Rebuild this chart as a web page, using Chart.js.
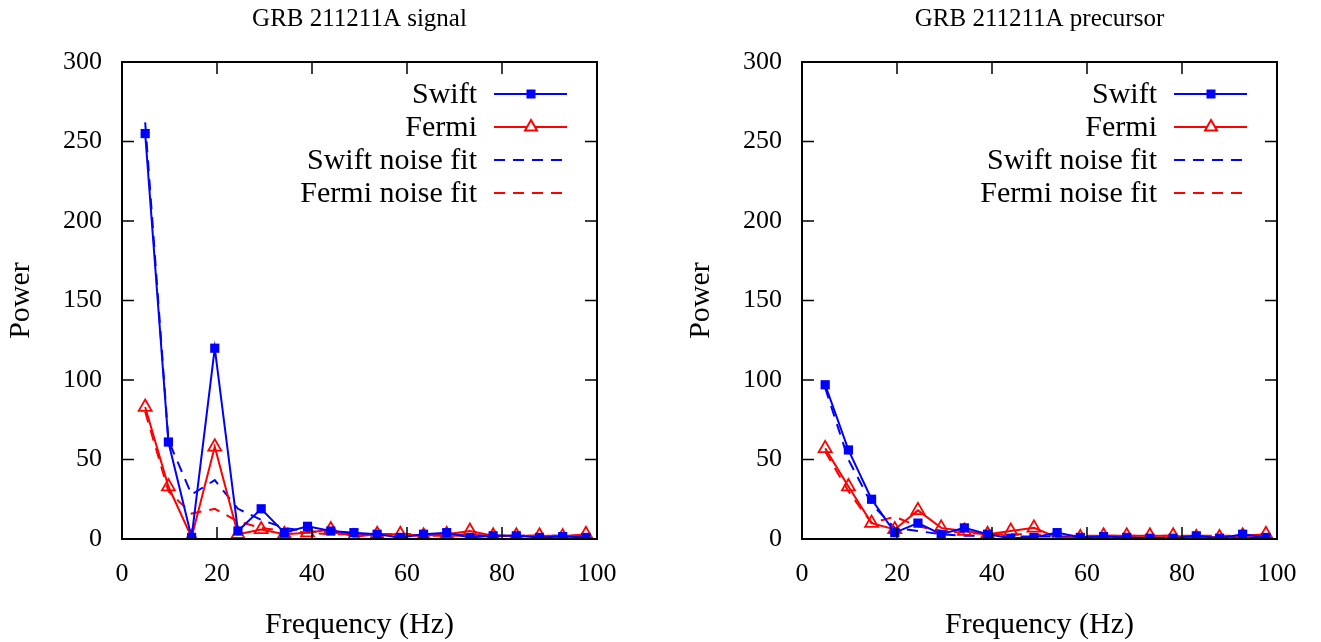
<!DOCTYPE html>
<html>
<head>
<meta charset="utf-8">
<script src="https://cdn.jsdelivr.net/npm/chart.js@4/dist/chart.umd.min.js"></script>
<style>
  body { margin: 0; background: #fff; }
  .panel { position: absolute; top: 0; width: 641px; height: 642px; }
</style>
</head>
<body>
<div class="panel" style="left:0"><canvas id="signalChart"></canvas></div>
<div class="panel" style="left:680px"><canvas id="precursorChart"></canvas></div>
<script>
// frequencies (Hz)
const freqs = [4.88, 9.77, 14.65, 19.53, 24.41, 29.30, 34.18, 39.06, 43.95, 48.83,
               53.71, 58.59, 63.48, 68.36, 73.24, 78.13, 83.01, 87.89, 92.77, 97.66];

// signal
const swiftSignal    = [255, 61, 1, 120, 5, 19, 4, 8, 5, 4, 3, 1, 3, 4, 1, 2, 2, 1, 1.5, 1];
const fermiSignal    = [83, 33, 1, 58, 3, 6, 3, 4, 6, 1.5, 3, 3, 2, 3, 5, 2, 2, 2, 1.5, 3];
const swiftFitSignal = [262, 62, 28, 37, 19, 12, 7, 5, 4, 3, 3, 3, 3, 3, 2.5, 2, 2, 2, 2, 2];
const fermiFitSignal = [80, 30, 16, 19, 11, 7, 5, 4, 3, 3, 2.5, 2.5, 2, 2, 2, 2, 2, 2, 2, 2];

// precursor
const swiftPre    = [97, 56, 25, 4, 10, 3, 7, 3, 0.5, 1, 4, 1, 1.5, 1, 0.5, 0.5, 2, 0.5, 3, 1];
const fermiPre    = [57, 33, 10, 6, 18, 7, 5, 3, 5, 7, 1, 1, 2, 2, 2, 2, 1, 1, 2, 3];
const swiftFitPre = [95, 50, 22, 7, 5, 3, 2, 2, 1.5, 1.5, 1.5, 1.5, 1, 1, 1, 1, 1, 1, 1, 1];
const fermiFitPre = [55, 30, 10, 14, 8, 5, 4, 3, 3, 3, 2, 2, 2, 2, 2, 2, 2, 2, 2, 2];

const xTicks = [0, 20, 40, 60, 80, 100];
const yTicks = [0, 50, 100, 150, 200, 250, 300];

Chart.defaults.font.family = "'Liberation Serif', 'DejaVu Serif', serif";
Chart.defaults.color = '#000';

const BLUE = '#0000ff';
const RED = '#ff0000';

const pts = vals => freqs.map((f, i) => ({ x: f, y: vals[i] }));

// gnuplot-like frame, inward mirrored ticks and key
const frameAndKey = {
    id: 'frameAndKey',
    afterDatasetsDraw(chart) {
        const { ctx, chartArea: a, scales: { x, y } } = chart;
        ctx.save();
        ctx.strokeStyle = '#000';
        ctx.lineWidth = 1.5;
        ctx.beginPath();
        xTicks.forEach(v => {
            const px = x.getPixelForValue(v);
            ctx.moveTo(px, a.bottom); ctx.lineTo(px, a.bottom - 12);
            ctx.moveTo(px, a.top); ctx.lineTo(px, a.top + 12);
        });
        yTicks.forEach(v => {
            const py = y.getPixelForValue(v);
            ctx.moveTo(a.left, py); ctx.lineTo(a.left + 12, py);
            ctx.moveTo(a.right, py); ctx.lineTo(a.right - 12, py);
        });
        ctx.stroke();
        ctx.lineWidth = 2;
        ctx.strokeRect(a.left, a.top, a.right - a.left, a.bottom - a.top);

        // key
        ctx.font = "30px 'Liberation Serif'";
        ctx.textAlign = 'right';
        ctx.textBaseline = 'middle';
        chart.data.datasets.forEach((ds, i) => {
            const ry = a.top + 32 + 33 * i;
            const x0 = a.right - 103, x1 = a.right - 30, xm = a.right - 66;
            ctx.fillStyle = '#000';
            ctx.fillText(ds.label, a.right - 120, ry + 1);
            ctx.strokeStyle = ds.borderColor;
            ctx.lineWidth = 2;
            ctx.setLineDash(ds.borderDash || []);
            ctx.beginPath();
            ctx.moveTo(x0, ry); ctx.lineTo(x1, ry);
            ctx.stroke();
            ctx.setLineDash([]);
            if (ds.pointStyle === 'rect') {
                ctx.fillStyle = ds.borderColor;
                ctx.fillRect(xm - 4.5, ry - 4.5, 9, 9);
            } else if (ds.pointStyle === 'triangle') {
                ctx.fillStyle = '#fff';
                ctx.beginPath();
                ctx.moveTo(xm, ry - 7);
                ctx.lineTo(xm + 6, ry + 3.5);
                ctx.lineTo(xm - 6, ry + 3.5);
                ctx.closePath();
                ctx.fill();
                ctx.stroke();
            }
        });
        ctx.restore();
    }
};

function makeChart(id, title, swift, fermi, swiftFit, fermiFit) {
    const ctx = document.getElementById(id).getContext('2d');
    return new Chart(ctx, {
        type: 'line',
        data: {
            datasets: [{
                label: 'Swift',
                data: pts(swift),
                borderColor: BLUE,
                backgroundColor: BLUE,
                borderWidth: 2,
                pointStyle: 'rect',
                pointRadius: 6.5,
                pointBorderWidth: 0,
                tension: 0
            }, {
                label: 'Fermi',
                data: pts(fermi),
                borderColor: RED,
                backgroundColor: 'rgba(0,0,0,0)',
                borderWidth: 2,
                pointStyle: 'triangle',
                pointRadius: 7.5,
                pointBorderWidth: 1.8,
                tension: 0
            }, {
                label: 'Swift noise fit',
                data: pts(swiftFit),
                borderColor: BLUE,
                borderWidth: 2,
                borderDash: [11, 8],
                pointRadius: 0,
                tension: 0
            }, {
                label: 'Fermi noise fit',
                data: pts(fermiFit),
                borderColor: RED,
                borderWidth: 2,
                borderDash: [11, 8],
                pointRadius: 0,
                tension: 0
            }]
        },
        options: {
            responsive: true,
            maintainAspectRatio: false,
            animation: false,
            layout: { padding: { left: 0, right: 44, top: 0, bottom: 0 } },
            plugins: {
                legend: { display: false },
                tooltip: { enabled: false },
                title: {
                    display: true,
                    text: title,
                    fullSize: false,
                    font: { size: 25, weight: 'normal', lineHeight: 1.2 },
                    padding: { top: 4, bottom: 28 }
                }
            },
            scales: {
                x: {
                    type: 'linear',
                    min: 0,
                    max: 100,
                    grid: { display: false, drawTicks: false },
                    border: { display: false },
                    ticks: { stepSize: 20, padding: 20, font: { size: 26 } },
                    title: { display: true, text: 'Frequency (Hz)', font: { size: 30, lineHeight: 1 }, padding: { top: 2, bottom: 2 } },
                    afterFit: s => { s.height = 103; }
                },
                y: {
                    min: 0,
                    max: 300,
                    grid: { display: false, drawTicks: false },
                    border: { display: false },
                    ticks: { stepSize: 50, padding: 20, font: { size: 26 } },
                    title: { display: true, text: 'Power', font: { size: 30, lineHeight: 1 }, padding: { top: 6, bottom: 6 } },
                    afterFit: s => { s.width = 122; }
                }
            }
        },
        plugins: [frameAndKey]
    });
}

makeChart('signalChart', 'GRB 211211A signal', swiftSignal, fermiSignal, swiftFitSignal, fermiFitSignal);
makeChart('precursorChart', 'GRB 211211A precursor', swiftPre, fermiPre, swiftFitPre, fermiFitPre);
</script>
</body>
</html>
